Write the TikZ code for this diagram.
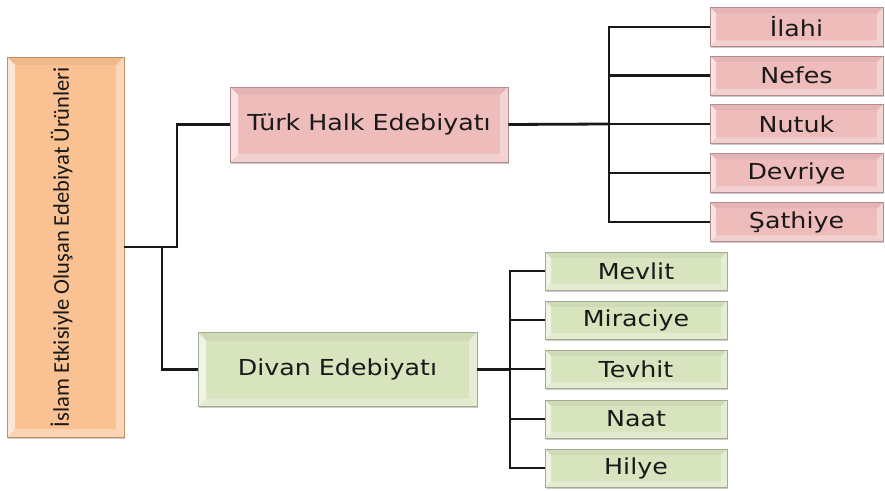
\documentclass[tikz,border=0pt]{standalone}
\usepackage{fontspec}
\newfontfamily\boxfont[FakeStretch=1.15]{DejaVu Sans}
\newfontfamily\rootfont{Carlito}
\usetikzlibrary{shadows}
\definecolor{orfill}{HTML}{FAC192}
\definecolor{pkfill}{HTML}{EFBCBC}
\definecolor{grfill}{HTML}{D8E4BE}
\tikzset{
  bevbox/.style={rectangle, line width=0.7pt, inner sep=0pt,
    text=black!90, font=\boxfont\fontsize{22}{26}\selectfont,
    drop shadow={shadow xshift=1.4pt, shadow yshift=-1.8pt, opacity=0.4},
    path picture={
      \fill[white,opacity=0.6] (path picture bounding box.south west) -- (path picture bounding box.north west)
        -- ([xshift=#1,yshift=-#1]path picture bounding box.north west) -- ([xshift=#1,yshift=#1]path picture bounding box.south west) -- cycle;
      \fill[black,opacity=0.04] (path picture bounding box.north west) -- (path picture bounding box.north east)
        -- ([xshift=-#1,yshift=-#1]path picture bounding box.north east) -- ([xshift=#1,yshift=-#1]path picture bounding box.north west) -- cycle;
      \fill[white,opacity=0.35] (path picture bounding box.north east) -- (path picture bounding box.south east)
        -- ([xshift=-#1,yshift=#1]path picture bounding box.south east) -- ([xshift=-#1,yshift=-#1]path picture bounding box.north east) -- cycle;
      \fill[white,opacity=0.3] (path picture bounding box.south west) -- (path picture bounding box.south east)
        -- ([xshift=-#1,yshift=#1]path picture bounding box.south east) -- ([xshift=#1,yshift=#1]path picture bounding box.south west) -- cycle;
    }},
  pk/.style={bevbox=6pt, fill=pkfill, draw=pkfill!75!black, minimum width=173pt, minimum height=39pt},
  gr/.style={bevbox=6pt, fill=grfill, draw=grfill!75!black, minimum width=182pt, minimum height=38pt},
  conn/.style={draw=black!90, line width=2.8pt},
}
\begin{document}
\begin{tikzpicture}[x=1pt,y=1pt]
\useasboundingbox (0,0) rectangle (885,490);
% root
\node[bevbox=8pt, fill=orfill, draw=orfill!75!black, minimum width=117pt, minimum height=380pt] (root) at (65.5,243)
  {\hspace*{-8pt}\rotatebox{90}{\rootfont\fontsize{22.5}{26}\selectfont İslam Etkisiyle Oluşan Edebiyat Ürünleri}};
% level 1
\node[bevbox=8pt, fill=pkfill, draw=pkfill!75!black, minimum width=278pt, minimum height=75pt] (turk) at (369,365.5) {Türk Halk Edebiyatı};
\node[bevbox=8pt, fill=grfill, draw=grfill!75!black, minimum width=279pt, minimum height=74pt] (divan) at (337.5,120.5) {Divan Edebiyatı};
% pink leaves
\node[pk] (p1) at (796.5,463) {İlahi};
\node[pk] (p2) at (796.5,414.5) {Nefes};
\node[pk] (p3) at (796.5,366) {Nutuk};
\node[pk] (p4) at (796.5,317) {Devriye};
\node[pk] (p5) at (796.5,268) {Şathiye};
% green leaves
\node[gr] (g1) at (636,219) {Mevlit};
\node[gr] (g2) at (636,170) {Miraciye};
\node[gr] (g3) at (636,121) {Tevhit};
\node[gr] (g4) at (636,71) {Naat};
\node[gr] (g5) at (636,22) {Hilye};
% junctions
\coordinate (j1) at (177,243);
\coordinate (j2) at (162,243);
\coordinate (jt) at (609,366);
\coordinate (jd) at (510,120.5);
% connectors
\draw[conn] (root.east) -- (j1) |- (turk.west);
\draw[conn] (j2) |- (divan.west);
\draw[conn] (turk.east) -- (jt);
\foreach \n in {p1,p2,p3,p4,p5} \draw[conn] (jt) |- (\n.west);
\draw[conn] (divan.east) -- (jd);
\foreach \n in {g1,g2,g3,g4,g5} \draw[conn] (jd) |- (\n.west);
\end{tikzpicture}
\end{document}
